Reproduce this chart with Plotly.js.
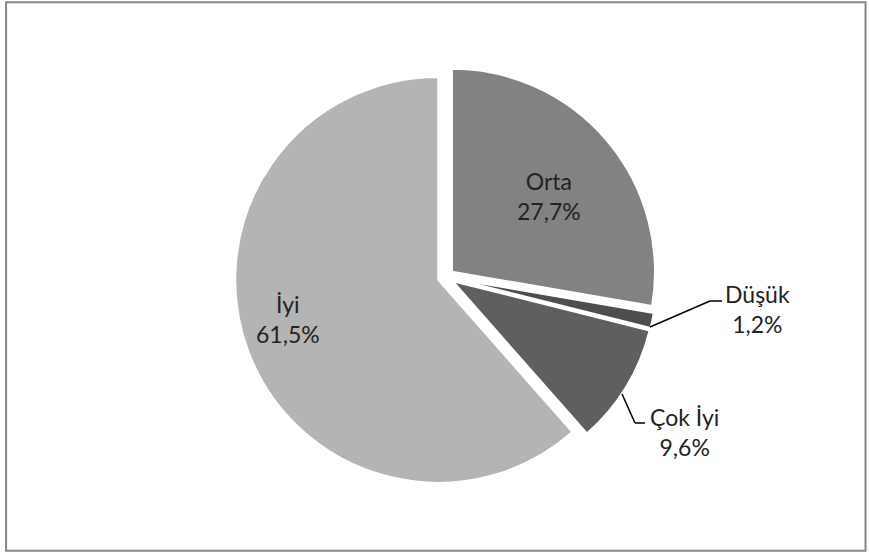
<!DOCTYPE html>
<html><head><meta charset="utf-8">
<script src="https://cdn.plot.ly/plotly-3.0.1.min.js"></script>
<style>html,body{margin:0;padding:0;background:#fff}#c{width:869px;height:554px}</style>
</head><body><div id="c"></div>
<script>
const labels = ['Orta', 'Düşük', 'Çok İyi', 'İyi'];
const values = [27.7, 1.2, 9.6, 61.5];
const colors = ['#828282', '#4e4e4e', '#5f5f5f', '#b4b4b4'];

const W = 869, H = 554;
const px = x => x / W;
const py = y => 1 - y / H;

// label anchor positions (pixels) and leader-line paths (pixels)
const labelPos = [[549, 196], [757, 309], [684, 432], [288, 319]];
const leaders = [null, [[650, 327], [710, 301], [722, 301]], [[622, 394], [635, 423], [645, 423]], null];

const fmt = v => v.toFixed(1).replace('.', ',') + '%';

const trace = {
  type: 'pie',
  labels: labels,
  values: values,
  sort: false,
  direction: 'clockwise',
  rotation: 0,
  pull: [0.04, 0.04, 0.04, 0.04],
  marker: {colors: colors, line: {color: '#ffffff', width: 2}},
  textinfo: 'none',
  hoverinfo: 'none',
  domain: {x: [0.2700, 0.7560], y: [0.119, 0.881]},
  automargin: false
};

const font = {family: 'Lato, "Open Sans", sans-serif', size: 23, color: '#222222'};
const annotations = labels.map((l, i) => ({
  xref: 'paper', yref: 'paper',
  x: px(labelPos[i][0]), y: py(labelPos[i][1]),
  xanchor: 'center', yanchor: 'middle',
  text: l + '<br>' + fmt(values[i]),
  showarrow: false, font: font, align: 'center'
}));

const shapes = [{type: 'rect', xref: 'paper', yref: 'paper', x0: 0.007, x1: 0.996, y0: 0.006, y1: 0.996,
  line: {color: '#868686', width: 2}, fillcolor: 'rgba(0,0,0,0)'}];
leaders.forEach(p => {
  if (!p) return;
  for (let k = 0; k < p.length - 1; k++) {
    shapes.push({type: 'line', xref: 'paper', yref: 'paper',
      x0: px(p[k][0]), y0: py(p[k][1]), x1: px(p[k + 1][0]), y1: py(p[k + 1][1]),
      line: {color: '#000000', width: 1.5}});
  }
});

const layout = {
  width: W, height: H,
  margin: {l: 0, r: 0, t: 0, b: 0},
  paper_bgcolor: '#ffffff',
  showlegend: false,
  annotations: annotations,
  shapes: shapes
};

Plotly.newPlot('c', [trace], layout, {staticPlot: true});
</script></body></html>
